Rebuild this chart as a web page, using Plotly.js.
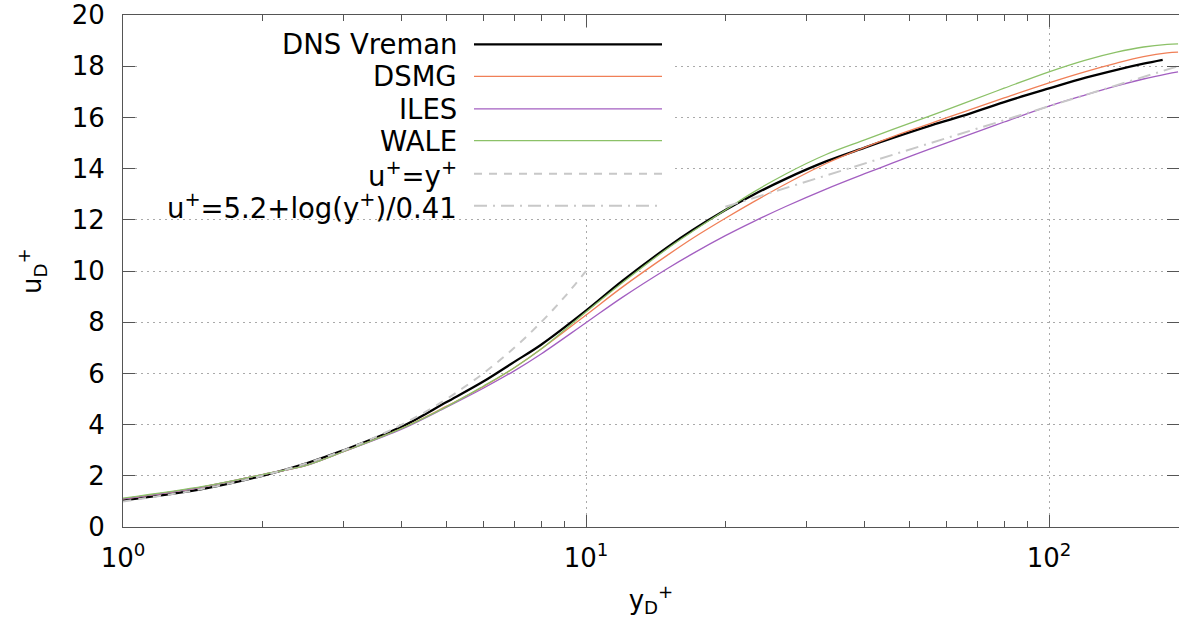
<!DOCTYPE html>
<html>
<head>
<meta charset="utf-8">
<script src="https://cdn.plot.ly/plotly-3.0.1.min.js"></script>
<style>html,body{margin:0;padding:0;background:#fff;}#chart{width:1179px;height:629px;}</style>
</head>
<body>
<div id="chart"></div>
<script>
// ---- data ----
const dnsYPlus = [1,1.5,2,2.5,3,4,5,6,7,8,10,12,15,17,20,23,27,33,40,46,55,65,80,100,120,140,160,176];
const dnsU     = [1.04,1.5,2.0,2.5,3.0,3.92,4.88,5.68,6.45,7.12,8.45,9.62,10.93,11.6,12.38,12.98,13.6,14.28,14.82,15.2,15.66,16.06,16.6,17.13,17.55,17.86,18.1,18.25];

const lesYPlus = [1,1.5,2,2.5,3,4,5,6,7,8,10,12,15,17,20,23,27,33,40,46,55,65,80,100,120,140,160,180,190];
const dsmgU    = [1.1,1.58,2.05,2.42,2.95,3.85,4.72,5.48,6.22,6.95,8.28,9.38,10.62,11.28,12.06,12.7,13.4,14.2,14.83,15.25,15.74,16.2,16.76,17.35,17.79,18.12,18.37,18.52,18.55];
const ilesU    = [1.1,1.58,2.05,2.42,2.95,3.82,4.68,5.42,6.1,6.76,7.98,8.98,10.1,10.68,11.38,11.93,12.52,13.2,13.8,14.22,14.75,15.23,15.82,16.44,16.88,17.23,17.5,17.7,17.78];
const waleU    = [1.13,1.6,2.05,2.42,2.95,3.85,4.7,5.5,6.22,6.95,8.4,9.55,10.88,11.55,12.38,13.08,13.79,14.55,15.12,15.53,16.04,16.53,17.14,17.78,18.24,18.55,18.75,18.85,18.87];

const viscYPlus = [1,1.5,2,2.5,3,3.5,4,4.5,5,6,7,8,9,10];
const viscU     = [1,1.5,2,2.5,3,3.5,4,4.5,5,6,7,8,9,10];

const logLawYPlus = [20,30,50,100,190];
const logLawU     = [12.51,13.5,14.74,16.43,18.0];

const seriesNames = ['DNS Vreman','DSMG','ILES','WALE','u<sup>+</sup>=y<sup>+</sup>','u<sup>+</sup>=5.2+log(y<sup>+</sup>)/0.41'];
const xTickVals = [1,10,100];
const xTickText = ['10<sup>0</sup>','10<sup>1</sup>','10<sup>2</sup>'];
const xMinorVals = [2,3,4,5,6,7,8,9,20,30,40,50,60,70,80,90];
const yTickVals = [0,2,4,6,8,10,12,14,16,18,20];

// ---- styles ----
const FONT = 'DejaVu Sans, Liberation Sans, sans-serif';
const styles = [
  {color:'#000000', width:2.3, dash:'solid'},
  {color:'#f07f57', width:1.3, dash:'solid'},
  {color:'#a35fc1', width:1.3, dash:'solid'},
  {color:'#8cc168', width:1.3, dash:'solid'},
  {color:'#c8c8c8', width:2.0, dash:'8px,7px'},
  {color:'#c8c8c8', width:2.0, dash:'13px,6px,2px,6px'}
];

const xs = [dnsYPlus, lesYPlus, lesYPlus, lesYPlus, viscYPlus, logLawYPlus];
const ys = [dnsU, dsmgU, ilesU, waleU, viscU, logLawU];

const traces = xs.map((x, i) => ({
  x: x, y: ys[i], type: 'scatter', mode: 'lines', name: seriesNames[i],
  line: {color: styles[i].color, width: styles[i].width, dash: styles[i].dash,
         shape: i === 5 ? 'linear' : 'spline', smoothing: 1},
  showlegend: false, hoverinfo: 'skip'
}));

// ---- manual key (text left of sample, like the reference) ----
const L = 123, R = 1179, T = 15, B = 527;
const px2x = p => (p - L) / (R - L);
const py2y = p => (B - p) / (B - T);
const rowY = [44.3, 76.4, 108.8, 140.6, 173.7, 205.8];

const shapes = [{
  type:'rect', xref:'paper', yref:'paper', layer:'above',
  x0: px2x(141), x1: px2x(672), y0: py2y(218), y1: py2y(28),
  fillcolor:'#ffffff', line:{width:0}
}];
const annotations = [];
rowY.forEach((ry, i) => {
  shapes.push({type:'line', xref:'paper', yref:'paper', layer:'above',
    x0: px2x(474), x1: px2x(662), y0: py2y(ry), y1: py2y(ry),
    line:{color: styles[i].color, width: styles[i].width, dash: styles[i].dash}});
  annotations.push({xref:'paper', yref:'paper', x: px2x(459), y: py2y(ry),
    xanchor:'right', yanchor:'middle', showarrow:false, text: seriesNames[i],
    font:{family: FONT, size: 27.5, color:'#000'}});
});

const layout = {
  width: 1179, height: 629,
  margin: {l: L, r: 1179 - R, t: T, b: 629 - B, pad: 0},
  paper_bgcolor:'#fff', plot_bgcolor:'#fff',
  font: {family: FONT, size: 26, color:'#000'},
  showlegend: false,
  xaxis: {
    type:'log', range:[0, (R - L) / 463], autorange:false,
    tickmode:'array', tickvals: xTickVals, ticktext: xTickText,
    ticks:'inside', ticklen:12, tickwidth:1, tickcolor:'#555',
    ticklabelstandoff: 8,
    showline:true, linecolor:'#555', linewidth:1, mirror:'ticks',
    showgrid:true, gridcolor:'#aaaaaa', gridwidth:1, griddash:'2px,4px',
    zeroline:false,
    minor: {tickmode:'array', tickvals: xMinorVals, ticks:'inside', ticklen:6, tickwidth:1, tickcolor:'#555', showgrid:false},
    title: {text:'y<sub>D</sub><sup>+</sup>', font:{family: FONT, size: 26, color:'#000'}, standoff: 18}
  },
  yaxis: {
    range:[0, 20], autorange:false,
    tickmode:'array', tickvals: yTickVals,
    ticks:'inside', ticklen:12, tickwidth:1, tickcolor:'#555',
    ticklabelstandoff: 12,
    showline:true, linecolor:'#555', linewidth:1, mirror:'ticks',
    showgrid:true, gridcolor:'#aaaaaa', gridwidth:1, griddash:'2px,4px',
    zeroline:false,
    title: {text:'u<sub>D</sub><sup>+</sup>', font:{family: FONT, size: 26, color:'#000'}, standoff: 22}
  },
  shapes: shapes,
  annotations: annotations
};

Plotly.newPlot('chart', traces, layout, {staticPlot:true, displayModeBar:false});
</script>
</body>
</html>
